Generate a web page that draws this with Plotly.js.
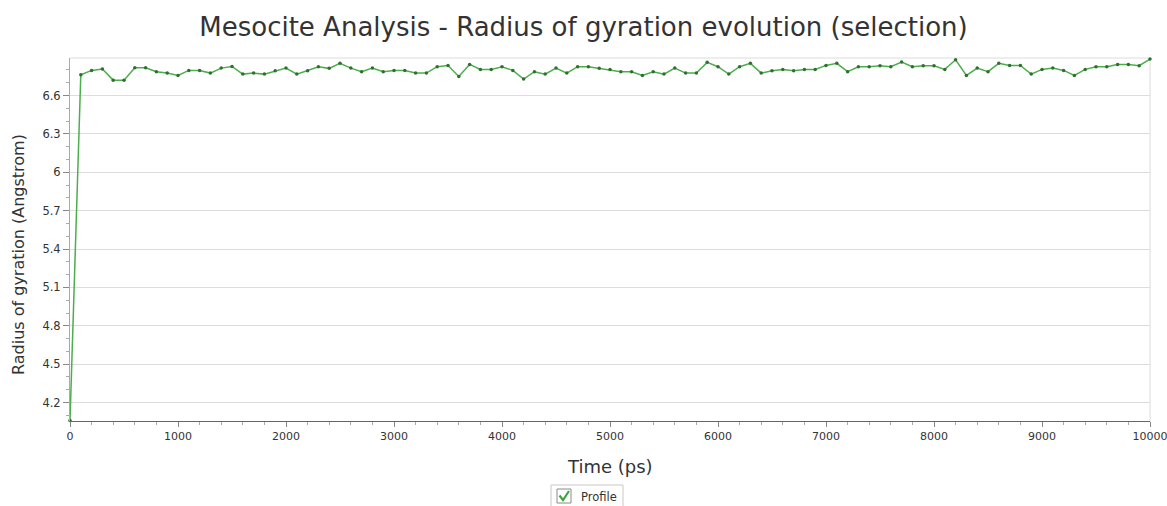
<!DOCTYPE html>
<html>
<head>
<meta charset="utf-8">
<script src="https://cdn.plot.ly/plotly-3.0.1.min.js"></script>
<style>html,body{margin:0;padding:0;background:#fff;}#chart{width:1167px;height:506px;}</style>
</head>
<body>
<div id="chart"></div>
<script>
// Time (ps)
const timePs = [0,100,200,300,400,500,600,700,800,900,
 1000,1100,1200,1300,1400,1500,1600,1700,1800,1900,
 2000,2100,2200,2300,2400,2500,2600,2700,2800,2900,
 3000,3100,3200,3300,3400,3500,3600,3700,3800,3900,
 4000,4100,4200,4300,4400,4500,4600,4700,4800,4900,
 5000,5100,5200,5300,5400,5500,5600,5700,5800,5900,
 6000,6100,6200,6300,6400,6500,6600,6700,6800,6900,
 7000,7100,7200,7300,7400,7500,7600,7700,7800,7900,
 8000,8100,8200,8300,8400,8500,8600,8700,8800,8900,
 9000,9100,9200,9300,9400,9500,9600,9700,9800,9900,
 10000];
// Radius of gyration (Angstrom)
const radiusGyration = [4.06,6.762,6.796,6.807,6.72,6.72,6.817,6.817,6.785,6.775,
 6.757,6.796,6.796,6.775,6.814,6.827,6.767,6.775,6.767,6.793,
 6.814,6.767,6.793,6.825,6.812,6.851,6.814,6.786,6.814,6.786,
 6.796,6.796,6.775,6.775,6.825,6.835,6.749,6.843,6.804,6.804,
 6.825,6.796,6.728,6.786,6.767,6.814,6.775,6.825,6.825,6.812,
 6.804,6.786,6.786,6.757,6.786,6.767,6.814,6.775,6.775,6.859,
 6.825,6.767,6.825,6.851,6.775,6.793,6.804,6.793,6.804,6.804,
 6.835,6.851,6.786,6.825,6.825,6.833,6.825,6.862,6.825,6.833,
 6.833,6.804,6.879,6.757,6.814,6.786,6.851,6.835,6.835,6.767,
 6.804,6.814,6.796,6.757,6.804,6.825,6.825,6.843,6.843,6.833,
 6.885];
const xTickVals = [0,1000,2000,3000,4000,5000,6000,7000,8000,9000,10000];
const xTickText = ["0","1000","2000","3000","4000","5000","6000","7000","8000","9000","10000"];
const seriesName = "Profile";
const titleText = "Mesocite Analysis - Radius of gyration evolution (selection)";
const xTitle = "Time (ps)";
const yTitle = "Radius of gyration (Angstrom)";

const W = 1167, H = 506;
const M = {l: 70, r: 17, t: 58, b: 85};
const PW = W - M.l - M.r, PH = H - M.t - M.b;
const px = x => (x - M.l) / PW;
const py = y => (H - M.b - y) / PH;

const font = "DejaVu Sans, Verdana, sans-serif";

const trace = {
  x: timePs, y: radiusGyration, name: seriesName,
  type: 'scatter', mode: 'lines+markers',
  line: {color: '#4cae4c', width: 1.5},
  marker: {color: '#2f6f2f', size: 3.5},
  showlegend: false, cliponaxis: false
};

const layout = {
  width: W, height: H,
  margin: M,
  paper_bgcolor: '#fff', plot_bgcolor: '#fff',
  font: {family: font, color: '#333'},
  title: {text: titleText, font: {family: font, size: 26, color: '#333'}, x: 0.5, xanchor: 'center', y: 1 - 27/H, yanchor: 'middle'},
  xaxis: {
    range: [0, 10000], tickmode: 'array', tickvals: xTickVals, ticktext: xTickText,
    ticklabeloverflow: 'allow',
    showgrid: false, zeroline: false,
    showline: true, linecolor: '#666', linewidth: 1,
    ticks: 'outside', ticklen: 5, tickcolor: '#888',
    tickfont: {family: font, size: 11, color: '#333'},
    minor: {dtick: 200, tick0: 0, ticks: 'outside', ticklen: 3, tickcolor: '#aaa', showgrid: false},
    title: {text: ''}
  },
  yaxis: {
    range: [4.056, 6.893], tick0: 4.2, dtick: 0.3,
    showgrid: true, gridcolor: '#dcdcdc', gridwidth: 1, zeroline: false,
    showline: true, linecolor: '#aaa', linewidth: 1,
    ticks: 'outside', ticklen: 6, tickcolor: '#888',
    tickfont: {family: font, size: 11.5, color: '#333'},
    minor: {dtick: 0.1, ticks: 'outside', ticklen: 3, tickcolor: '#aaa', showgrid: false},
    title: {text: ''}
  },
  shapes: [
    {type: 'line', xref: 'paper', yref: 'paper', x0: 0, x1: 1, y0: 1, y1: 1, line: {color: '#dcdcdc', width: 1}, layer: 'below'},
    {type: 'line', xref: 'paper', yref: 'paper', x0: 1, x1: 1, y0: 0, y1: 1, line: {color: '#dcdcdc', width: 1}, layer: 'below'},
    {type: 'rect', xref: 'paper', yref: 'paper', x0: px(551), x1: px(623), y0: py(508), y1: py(485), line: {color: '#c8c8c8', width: 1}, fillcolor: '#fff'},
    {type: 'rect', xref: 'paper', yref: 'paper', x0: px(557), x1: px(571), y0: py(503), y1: py(489), line: {color: '#8a8a8a', width: 1}, fillcolor: '#fff'},
    {type: 'path', xref: 'paper', yref: 'paper',
     path: 'M ' + px(559.5) + ' ' + py(495.5) + ' L ' + px(563) + ' ' + py(500) + ' L ' + px(569) + ' ' + py(491),
     line: {color: '#3aa83a', width: 2.2}}
  ],
  annotations: [
    {text: xTitle, xref: 'paper', yref: 'paper', x: px(609.5), y: py(466), xanchor: 'center', yanchor: 'middle', showarrow: false, font: {family: font, size: 18, color: '#333'}},
    {text: yTitle, xref: 'paper', yref: 'paper', x: px(18), y: py(255), xanchor: 'center', yanchor: 'middle', textangle: -90, showarrow: false, font: {family: font, size: 16, color: '#333'}},
    {text: seriesName, xref: 'paper', yref: 'paper', x: px(579), y: py(497), xanchor: 'left', yanchor: 'middle', showarrow: false, font: {family: font, size: 11.5, color: '#333'}}
  ]
};

Plotly.newPlot('chart', [trace], layout, {displayModeBar: false, staticPlot: true});
</script>
</body>
</html>
